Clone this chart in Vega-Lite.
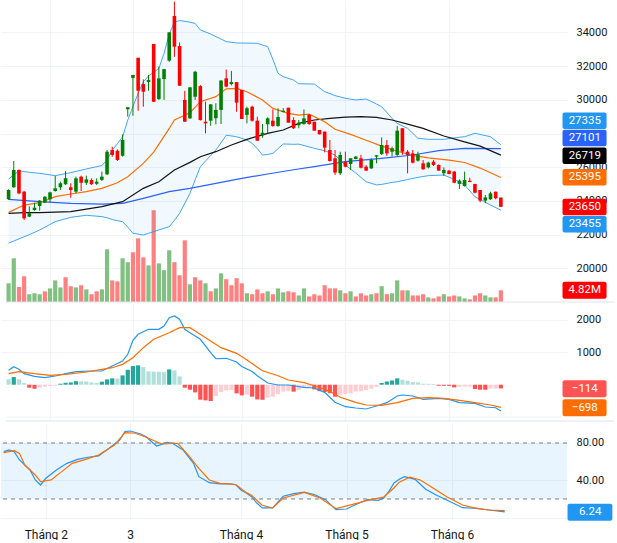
{
"$schema":"https://vega.github.io/schema/vega-lite/v6.json",
"padding":0,
"background":"white",
"spacing":1,
"config":{"view":{"stroke":null},"font":"Roboto",
 "axis":{"labelFont":"Roboto","labelColor":"#131722","labelFontSize":11,"ticks":false,"domain":false,"title":null,"gridColor":"#F0F3FA","gridWidth":1,"labelOverlap":false},
 "axisY":{"labelOverlap":false},
 "axisX":{"labelFontSize":12}},
"datasets":{
"c":[
{"i":0,"o":24100,"h":24690,"l":24060,"c":24650,"v":7.7,"vu":1},
{"i":1,"o":24810,"h":26370,"l":24780,"c":25840,"v":18.0,"vu":1},
{"i":2,"o":25840,"h":25870,"l":24400,"c":24450,"v":6.2,"vu":0},
{"i":3,"o":24550,"h":24600,"l":22870,"c":22970,"v":10.6,"vu":0},
{"i":4,"o":23070,"h":23680,"l":23040,"c":23270,"v":3.2,"vu":1},
{"i":5,"o":23460,"h":23890,"l":23420,"c":23600,"v":3.6,"vu":1},
{"i":6,"o":23700,"h":24060,"l":23420,"c":24020,"v":3.2,"vu":1},
{"i":7,"o":23900,"h":24280,"l":23880,"c":24250,"v":4.4,"vu":0},
{"i":8,"o":24100,"h":24550,"l":23920,"c":24510,"v":5.6,"vu":1},
{"i":9,"o":24590,"h":25480,"l":24550,"c":24750,"v":8.9,"vu":1},
{"i":10,"o":24810,"h":25140,"l":24650,"c":25050,"v":6.0,"vu":1},
{"i":11,"o":24990,"h":25780,"l":24950,"c":25340,"v":10.2,"vu":0},
{"i":12,"o":24810,"h":25050,"l":24190,"c":24650,"v":6.5,"vu":0},
{"i":13,"o":24550,"h":25440,"l":24450,"c":25340,"v":6.0,"vu":1},
{"i":14,"o":25440,"h":25500,"l":24590,"c":25080,"v":6.9,"vu":0},
{"i":15,"o":25080,"h":25500,"l":24950,"c":25280,"v":5.2,"vu":1},
{"i":16,"o":25240,"h":25340,"l":24950,"c":24990,"v":3.2,"vu":0},
{"i":17,"o":25020,"h":25340,"l":24950,"c":25140,"v":4.4,"vu":0},
{"i":18,"o":25250,"h":25740,"l":25180,"c":25440,"v":5.2,"vu":1},
{"i":19,"o":25580,"h":27020,"l":25540,"c":26920,"v":21.7,"vu":1},
{"i":20,"o":27020,"h":27220,"l":26620,"c":26730,"v":8.9,"vu":0},
{"i":21,"o":26980,"h":27060,"l":26370,"c":26430,"v":8.5,"vu":0},
{"i":22,"o":26680,"h":27950,"l":26630,"c":27620,"v":18.0,"vu":1},
{"i":23,"o":29440,"h":29550,"l":29000,"c":29550,"v":16.4,"vu":1},
{"i":24,"o":31300,"h":31470,"l":29050,"c":31470,"v":20.5,"vu":0},
{"i":25,"o":32490,"h":32490,"l":29350,"c":30540,"v":26.2,"vu":0},
{"i":26,"o":30930,"h":31210,"l":29590,"c":30480,"v":18.4,"vu":0},
{"i":27,"o":31050,"h":31470,"l":30540,"c":31170,"v":15.1,"vu":1},
{"i":28,"o":33310,"h":33310,"l":29880,"c":29880,"v":37.8,"vu":0},
{"i":29,"o":30040,"h":31960,"l":29990,"c":31270,"v":15.9,"vu":1},
{"i":30,"o":31230,"h":31820,"l":29990,"c":31820,"v":13.1,"vu":1},
{"i":31,"o":32320,"h":34000,"l":32250,"c":34000,"v":21.3,"vu":1},
{"i":32,"o":34970,"h":35820,"l":32550,"c":33150,"v":16.4,"vu":0},
{"i":33,"o":33190,"h":33400,"l":30830,"c":30830,"v":11.0,"vu":0},
{"i":34,"o":29990,"h":30530,"l":28700,"c":28700,"v":25.4,"vu":0},
{"i":35,"o":28900,"h":30740,"l":28860,"c":30740,"v":7.3,"vu":1},
{"i":36,"o":30180,"h":31720,"l":29990,"c":31660,"v":10.2,"vu":0},
{"i":37,"o":30810,"h":30870,"l":28760,"c":28800,"v":8.9,"vu":0},
{"i":38,"o":28700,"h":29890,"l":28010,"c":28600,"v":7.7,"vu":1},
{"i":39,"o":28760,"h":29730,"l":28460,"c":29730,"v":4.4,"vu":0},
{"i":40,"o":28910,"h":29800,"l":28540,"c":29400,"v":5.6,"vu":1},
{"i":41,"o":29400,"h":31170,"l":28560,"c":31140,"v":11.8,"vu":1},
{"i":42,"o":31270,"h":31800,"l":30740,"c":30780,"v":9.4,"vu":0},
{"i":43,"o":30930,"h":31710,"l":30850,"c":31050,"v":6.9,"vu":0},
{"i":44,"o":31050,"h":31050,"l":29290,"c":29830,"v":9.8,"vu":0},
{"i":45,"o":30580,"h":30580,"l":28860,"c":28860,"v":7.7,"vu":0},
{"i":46,"o":29100,"h":29590,"l":28600,"c":29500,"v":3.6,"vu":1},
{"i":47,"o":29590,"h":29650,"l":28700,"c":28760,"v":3.2,"vu":0},
{"i":48,"o":28760,"h":29000,"l":27570,"c":27570,"v":5.2,"vu":0},
{"i":49,"o":27890,"h":28560,"l":27750,"c":28050,"v":3.6,"vu":0},
{"i":50,"o":28550,"h":28960,"l":28010,"c":28900,"v":4.4,"vu":1},
{"i":51,"o":28760,"h":29430,"l":28400,"c":28450,"v":3.2,"vu":0},
{"i":52,"o":28450,"h":29500,"l":28400,"c":28980,"v":5.6,"vu":1},
{"i":53,"o":29280,"h":29500,"l":29250,"c":29350,"v":4.0,"vu":1},
{"i":54,"o":29530,"h":29530,"l":28640,"c":28640,"v":4.4,"vu":0},
{"i":55,"o":28800,"h":28960,"l":28270,"c":28310,"v":4.0,"vu":0},
{"i":56,"o":28490,"h":28800,"l":28310,"c":28640,"v":2.7,"vu":1},
{"i":57,"o":28560,"h":29430,"l":28520,"c":28900,"v":5.6,"vu":1},
{"i":58,"o":29100,"h":29160,"l":28520,"c":28560,"v":2.3,"vu":0},
{"i":59,"o":28700,"h":28700,"l":28170,"c":28170,"v":3.2,"vu":0},
{"i":60,"o":28210,"h":28210,"l":27950,"c":27950,"v":2.7,"vu":0},
{"i":61,"o":28110,"h":28110,"l":26880,"c":27160,"v":6.9,"vu":0},
{"i":62,"o":27020,"h":27620,"l":26330,"c":26370,"v":5.6,"vu":0},
{"i":63,"o":26530,"h":27020,"l":25540,"c":25680,"v":5.6,"vu":0},
{"i":64,"o":25640,"h":26920,"l":25540,"c":26730,"v":4.8,"vu":1},
{"i":65,"o":26330,"h":26920,"l":25990,"c":26030,"v":3.6,"vu":0},
{"i":66,"o":26190,"h":26530,"l":25840,"c":26530,"v":4.4,"vu":1},
{"i":67,"o":26490,"h":26670,"l":26470,"c":26630,"v":2.3,"vu":0},
{"i":68,"o":26530,"h":26730,"l":25930,"c":25970,"v":3.6,"vu":0},
{"i":69,"o":26030,"h":26130,"l":25780,"c":25800,"v":2.7,"vu":0},
{"i":70,"o":25930,"h":26530,"l":25900,"c":26430,"v":3.2,"vu":1},
{"i":71,"o":26630,"h":26710,"l":26230,"c":26710,"v":3.6,"vu":0},
{"i":72,"o":26780,"h":27770,"l":26730,"c":27320,"v":6.5,"vu":1},
{"i":73,"o":27320,"h":27620,"l":26670,"c":26820,"v":3.2,"vu":0},
{"i":74,"o":26920,"h":27220,"l":26630,"c":27120,"v":3.6,"vu":1},
{"i":75,"o":26730,"h":28450,"l":26630,"c":28170,"v":8.9,"vu":1},
{"i":76,"o":28310,"h":28310,"l":26730,"c":26920,"v":4.8,"vu":0},
{"i":77,"o":26920,"h":27020,"l":25640,"c":26730,"v":4.8,"vu":1},
{"i":78,"o":26820,"h":27020,"l":26230,"c":26270,"v":2.7,"vu":0},
{"i":79,"o":26390,"h":26920,"l":26330,"c":26760,"v":2.7,"vu":0},
{"i":80,"o":26230,"h":26430,"l":25840,"c":25880,"v":3.2,"vu":0},
{"i":81,"o":25990,"h":26330,"l":25930,"c":26270,"v":1.9,"vu":1},
{"i":82,"o":26330,"h":26430,"l":26070,"c":26130,"v":1.5,"vu":0},
{"i":83,"o":26130,"h":26170,"l":25780,"c":25800,"v":2.3,"vu":0},
{"i":84,"o":25640,"h":25990,"l":25480,"c":25840,"v":3.2,"vu":1},
{"i":85,"o":25800,"h":25840,"l":25580,"c":25600,"v":2.3,"vu":0},
{"i":86,"o":25740,"h":25780,"l":25050,"c":25080,"v":2.7,"vu":0},
{"i":87,"o":25010,"h":25280,"l":24710,"c":25200,"v":2.3,"vu":1},
{"i":88,"o":24890,"h":25740,"l":24850,"c":25240,"v":1.5,"vu":1},
{"i":89,"o":25200,"h":25380,"l":25120,"c":25120,"v":1.1,"vu":0},
{"i":90,"o":25010,"h":25010,"l":24450,"c":24490,"v":2.7,"vu":0},
{"i":91,"o":24650,"h":24650,"l":23920,"c":24020,"v":3.6,"vu":0},
{"i":92,"o":24020,"h":24350,"l":23860,"c":24210,"v":2.7,"vu":1},
{"i":93,"o":24100,"h":24550,"l":24060,"c":24450,"v":1.9,"vu":1},
{"i":94,"o":24550,"h":24550,"l":24100,"c":24160,"v":1.9,"vu":0},
{"i":95,"o":24200,"h":24200,"l":23650,"c":23650,"v":4.82,"vu":0}
],
"bb":[
{"i":0,"up":25300,"lo":21500},{"i":2,"up":25790,"lo":21750},{"i":4,"up":25700,"lo":22000},{"i":6,"up":25640,"lo":22280},
{"i":9,"up":25500,"lo":22770},{"i":12,"up":25680,"lo":23030},{"i":15,"up":25900,"lo":23150},{"i":18,"up":26100,"lo":23070},
{"i":19,"up":26430,"lo":23000},{"i":20,"up":27000,"lo":22900},{"i":21,"up":27400,"lo":22830},{"i":22,"up":27800,"lo":22770},
{"i":23,"up":28800,"lo":22450},{"i":24,"up":29600,"lo":22080},{"i":25,"up":30380,"lo":22030},{"i":26,"up":31070,"lo":21980},
{"i":27,"up":31410,"lo":22080},{"i":29,"up":31860,"lo":22280},{"i":30,"up":32750,"lo":22380},{"i":31,"up":33900,"lo":22470},
{"i":32,"up":34600,"lo":22850},{"i":33,"up":34700,"lo":23260},{"i":35,"up":34600,"lo":24450},{"i":36,"up":34530,"lo":25250},
{"i":37,"up":34140,"lo":26030},{"i":39,"up":33900,"lo":26700},{"i":40,"up":33750,"lo":27020},{"i":42,"up":33450,"lo":27900},
{"i":44,"up":33370,"lo":27810},{"i":46,"up":33360,"lo":27610},{"i":47,"up":33355,"lo":27420},{"i":48,"up":33350,"lo":27100},
{"i":49,"up":33250,"lo":26720},{"i":50,"up":33150,"lo":26760},{"i":51,"up":32400,"lo":26820},{"i":52,"up":31570,"lo":27100},
{"i":53,"up":31370,"lo":27380},{"i":55,"up":31170,"lo":27360},{"i":56,"up":30950,"lo":27370},{"i":59,"up":30935,"lo":27120},
{"i":61,"up":30480,"lo":26980},{"i":63,"up":30250,"lo":26720},{"i":65,"up":30087,"lo":26130},{"i":67,"up":29990,"lo":25650},
{"i":69,"up":30046,"lo":25140},{"i":71,"up":29750,"lo":24950},{"i":72,"up":29590,"lo":24980},{"i":74,"up":28900,"lo":25100},
{"i":75,"up":28600,"lo":25140},{"i":77,"up":28310,"lo":25270},{"i":79,"up":27715,"lo":25400},{"i":81,"up":27656,"lo":25500},
{"i":84,"up":27656,"lo":25540},{"i":87,"up":27780,"lo":25140},{"i":88,"up":27810,"lo":24950},{"i":90,"up":28012,"lo":24250},
{"i":93,"up":27810,"lo":23760},{"i":95,"up":27335,"lo":23455}
],
"ma":[
{"i":0,"s":"basis","v":23323},{"i":3,"s":"basis","v":23758},{"i":6,"s":"basis","v":23897},{"i":9,"s":"basis","v":24253},
{"i":12,"s":"basis","v":24411},{"i":15,"s":"basis","v":24549},{"i":18,"s":"basis","v":24747},{"i":21,"s":"basis","v":25083},
{"i":23,"s":"basis","v":25439},{"i":26,"s":"basis","v":26230},{"i":28,"s":"basis","v":26900},{"i":31,"s":"basis","v":28300},
{"i":32,"s":"basis","v":28800},{"i":35,"s":"basis","v":29235},{"i":37,"s":"basis","v":29887},{"i":40,"s":"basis","v":30184},
{"i":42,"s":"basis","v":30650},{"i":44,"s":"basis","v":30678},{"i":46,"s":"basis","v":30480},{"i":49,"s":"basis","v":29986},
{"i":51,"s":"basis","v":29492},{"i":54,"s":"basis","v":29195},{"i":56,"s":"basis","v":29096},{"i":58,"s":"basis","v":29150},
{"i":61,"s":"basis","v":28700},{"i":63,"s":"basis","v":28250},{"i":66,"s":"basis","v":27950},{"i":69,"s":"basis","v":27600},
{"i":72,"s":"basis","v":27250},{"i":75,"s":"basis","v":26950},{"i":78,"s":"basis","v":26700},{"i":81,"s":"basis","v":26550},
{"i":85,"s":"basis","v":26420},{"i":88,"s":"basis","v":26280},{"i":91,"s":"basis","v":25950},{"i":95,"s":"basis","v":25395},
{"i":0,"s":"ma50","v":23264},{"i":3,"s":"ma50","v":23304},{"i":6,"s":"ma50","v":23304},{"i":12,"s":"ma50","v":23363},
{"i":18,"s":"ma50","v":23660},{"i":22,"s":"ma50","v":23956},{"i":26,"s":"ma50","v":24747},{"i":29,"s":"ma50","v":25142},
{"i":32,"s":"ma50","v":25835},{"i":35,"s":"ma50","v":26289},{"i":37,"s":"ma50","v":26625},{"i":40,"s":"ma50","v":26922},
{"i":43,"s":"ma50","v":27317},{"i":46,"s":"ma50","v":27653},{"i":50,"s":"ma50","v":28009},{"i":53,"s":"ma50","v":28207},
{"i":56,"s":"ma50","v":28600},{"i":59,"s":"ma50","v":28800},{"i":62,"s":"ma50","v":28899},{"i":65,"s":"ma50","v":28970},
{"i":68,"s":"ma50","v":29000},{"i":71,"s":"ma50","v":28960},{"i":74,"s":"ma50","v":28800},{"i":77,"s":"ma50","v":28560},
{"i":80,"s":"ma50","v":28300},{"i":84,"s":"ma50","v":27850},{"i":88,"s":"ma50","v":27500},{"i":91,"s":"ma50","v":27250},
{"i":95,"s":"ma50","v":26719},
{"i":0,"s":"ma200","v":24094},{"i":6,"s":"ma200","v":23956},{"i":12,"s":"ma200","v":23857},{"i":18,"s":"ma200","v":23818},
{"i":22,"s":"ma200","v":23857},{"i":26,"s":"ma200","v":24154},{"i":31,"s":"ma200","v":24549},{"i":35,"s":"ma200","v":24747},
{"i":40,"s":"ma200","v":25043},{"i":45,"s":"ma200","v":25340},{"i":50,"s":"ma200","v":25597},{"i":55,"s":"ma200","v":25850},
{"i":59,"s":"ma200","v":26032},{"i":65,"s":"ma200","v":26328},{"i":72,"s":"ma200","v":26526},{"i":78,"s":"ma200","v":26724},
{"i":83,"s":"ma200","v":26981},{"i":88,"s":"ma200","v":27119},{"i":95,"s":"ma200","v":27101}
],
"h":[
{"i":0,"h":165,"k":"gl"},{"i":1,"h":237,"k":"g"},{"i":2,"h":165,"k":"gl"},{"i":3,"h":50,"k":"gl"},{"i":4,"h":-93,"k":"r"},
{"i":5,"h":-123,"k":"r"},{"i":6,"h":-93,"k":"rl"},{"i":7,"h":-62,"k":"rl"},{"i":8,"h":-40,"k":"rl"},{"i":9,"h":-25,"k":"rl"},
{"i":10,"h":30,"k":"g"},{"i":11,"h":60,"k":"g"},{"i":12,"h":70,"k":"g"},{"i":13,"h":110,"k":"g"},{"i":14,"h":105,"k":"gl"},
{"i":15,"h":100,"k":"gl"},{"i":16,"h":72,"k":"gl"},{"i":17,"h":55,"k":"gl"},{"i":18,"h":93,"k":"g"},{"i":19,"h":165,"k":"g"},
{"i":20,"h":195,"k":"g"},{"i":21,"h":190,"k":"gl"},{"i":22,"h":288,"k":"g"},{"i":23,"h":463,"k":"g"},{"i":24,"h":576,"k":"g"},
{"i":25,"h":597,"k":"g"},{"i":26,"h":545,"k":"gl"},{"i":27,"h":412,"k":"gl"},{"i":28,"h":405,"k":"gl"},{"i":29,"h":400,"k":"gl"},
{"i":30,"h":391,"k":"gl"},{"i":31,"h":473,"k":"g"},{"i":32,"h":442,"k":"gl"},{"i":33,"h":257,"k":"gl"},{"i":34,"h":-93,"k":"r"},
{"i":35,"h":-154,"k":"r"},{"i":36,"h":-237,"k":"r"},{"i":37,"h":-463,"k":"r"},{"i":38,"h":-483,"k":"r"},{"i":39,"h":-504,"k":"r"},
{"i":40,"h":-350,"k":"rl"},{"i":41,"h":-226,"k":"rl"},{"i":42,"h":-175,"k":"rl"},{"i":43,"h":-165,"k":"rl"},{"i":44,"h":-268,"k":"r"},
{"i":45,"h":-330,"k":"r"},{"i":46,"h":-310,"k":"rl"},{"i":47,"h":-370,"k":"r"},{"i":48,"h":-455,"k":"r"},{"i":49,"h":-465,"k":"r"},
{"i":50,"h":-400,"k":"rl"},{"i":51,"h":-370,"k":"rl"},{"i":52,"h":-290,"k":"rl"},{"i":53,"h":-210,"k":"rl"},{"i":54,"h":-200,"k":"rl"},
{"i":55,"h":-215,"k":"r"},{"i":56,"h":-165,"k":"rl"},{"i":57,"h":-85,"k":"rl"},{"i":58,"h":-60,"k":"rl"},{"i":59,"h":-145,"k":"r"},
{"i":60,"h":-200,"k":"r"},{"i":61,"h":-225,"k":"r"},{"i":62,"h":-265,"k":"r"},{"i":63,"h":-370,"k":"r"},{"i":64,"h":-310,"k":"rl"},
{"i":65,"h":-290,"k":"rl"},{"i":66,"h":-268,"k":"rl"},{"i":67,"h":-210,"k":"rl"},{"i":68,"h":-205,"k":"rl"},{"i":69,"h":-165,"k":"rl"},
{"i":70,"h":-123,"k":"rl"},{"i":71,"h":-62,"k":"rl"},{"i":72,"h":55,"k":"g"},{"i":73,"h":100,"k":"g"},{"i":74,"h":130,"k":"g"},
{"i":75,"h":196,"k":"g"},{"i":76,"h":154,"k":"gl"},{"i":77,"h":123,"k":"gl"},{"i":78,"h":82,"k":"gl"},{"i":79,"h":72,"k":"gl"},
{"i":80,"h":31,"k":"gl"},{"i":81,"h":28,"k":"gl"},{"i":82,"h":21,"k":"gl"},{"i":83,"h":-31,"k":"r"},{"i":84,"h":-33,"k":"r"},
{"i":85,"h":-35,"k":"r"},{"i":86,"h":-82,"k":"r"},{"i":87,"h":-62,"k":"rl"},{"i":88,"h":-60,"k":"rl"},{"i":89,"h":-58,"k":"rl"},
{"i":90,"h":-134,"k":"r"},{"i":91,"h":-154,"k":"r"},{"i":92,"h":-156,"k":"r"},{"i":93,"h":-123,"k":"rl"},{"i":94,"h":-120,"k":"rl"},
{"i":95,"h":-114,"k":"r"}
],
"md":[
{"i":0,"s":"macd","v":444},{"i":1,"s":"macd","v":556},{"i":2,"s":"macd","v":475},{"i":3,"s":"macd","v":340},{"i":5,"s":"macd","v":259},
{"i":7,"s":"macd","v":216},{"i":9,"s":"macd","v":269},{"i":11,"s":"macd","v":340},{"i":13,"s":"macd","v":401},{"i":16,"s":"macd","v":423},
{"i":18,"s":"macd","v":423},{"i":20,"s":"macd","v":577},{"i":22,"s":"macd","v":731},{"i":23,"s":"macd","v":938},{"i":24,"s":"macd","v":1370},
{"i":25,"s":"macd","v":1556},{"i":27,"s":"macd","v":1710},{"i":29,"s":"macd","v":1710},{"i":30,"s":"macd","v":1812},{"i":31,"s":"macd","v":2068},
{"i":32,"s":"macd","v":2120},{"i":33,"s":"macd","v":2019},{"i":34,"s":"macd","v":1710},{"i":35,"s":"macd","v":1605},{"i":37,"s":"macd","v":1401},
{"i":39,"s":"macd","v":988},{"i":40,"s":"macd","v":802},{"i":42,"s":"macd","v":815},{"i":44,"s":"macd","v":700},{"i":45,"s":"macd","v":560},
{"i":47,"s":"macd","v":410},{"i":48,"s":"macd","v":278},{"i":50,"s":"macd","v":52},{"i":52,"s":"macd","v":-9},{"i":54,"s":"macd","v":-9},
{"i":57,"s":"macd","v":-80},{"i":59,"s":"macd","v":-101},{"i":61,"s":"macd","v":-235},{"i":63,"s":"macd","v":-543},{"i":65,"s":"macd","v":-679},
{"i":67,"s":"macd","v":-719},{"i":69,"s":"macd","v":-750},{"i":71,"s":"macd","v":-657},{"i":73,"s":"macd","v":-555},{"i":75,"s":"macd","v":-349},
{"i":76,"s":"macd","v":-318},{"i":78,"s":"macd","v":-349},{"i":80,"s":"macd","v":-451},{"i":83,"s":"macd","v":-420},{"i":85,"s":"macd","v":-451},
{"i":87,"s":"macd","v":-555},{"i":90,"s":"macd","v":-575},{"i":92,"s":"macd","v":-688},{"i":94,"s":"macd","v":-710},{"i":95,"s":"macd","v":-812},
{"i":0,"s":"sig","v":340},{"i":2,"s":"sig","v":401},{"i":5,"s":"sig","v":340},{"i":8,"s":"sig","v":290},{"i":11,"s":"sig","v":320},
{"i":15,"s":"sig","v":392},{"i":18,"s":"sig","v":475},{"i":20,"s":"sig","v":525},{"i":22,"s":"sig","v":628},{"i":24,"s":"sig","v":834},
{"i":26,"s":"sig","v":1143},{"i":28,"s":"sig","v":1401},{"i":31,"s":"sig","v":1605},{"i":33,"s":"sig","v":1760},{"i":35,"s":"sig","v":1760},
{"i":36,"s":"sig","v":1657},{"i":39,"s":"sig","v":1350},{"i":41,"s":"sig","v":1143},{"i":44,"s":"sig","v":969},{"i":46,"s":"sig","v":760},
{"i":49,"s":"sig","v":432},{"i":52,"s":"sig","v":278},{"i":54,"s":"sig","v":145},{"i":57,"s":"sig","v":62},{"i":59,"s":"sig","v":-31},
{"i":62,"s":"sig","v":-204},{"i":64,"s":"sig","v":-389},{"i":67,"s":"sig","v":-543},{"i":69,"s":"sig","v":-627},{"i":72,"s":"sig","v":-640},
{"i":75,"s":"sig","v":-555},{"i":78,"s":"sig","v":-420},{"i":81,"s":"sig","v":-400},{"i":84,"s":"sig","v":-420},{"i":87,"s":"sig","v":-482},
{"i":90,"s":"sig","v":-555},{"i":93,"s":"sig","v":-627},{"i":95,"s":"sig","v":-698}
],
"st":[
{"i":0,"s":"k","v":70.7},{"i":1,"s":"k","v":72.5},{"i":2,"s":"k","v":70.7},{"i":3,"s":"k","v":61.8},{"i":5,"s":"k","v":51.1},
{"i":6,"s":"k","v":40.4},{"i":7,"s":"k","v":35},{"i":8,"s":"k","v":42.2},{"i":10,"s":"k","v":51.1},{"i":12,"s":"k","v":58.2},
{"i":14,"s":"k","v":62.5},{"i":16,"s":"k","v":64.7},{"i":18,"s":"k","v":66.1},{"i":20,"s":"k","v":74.3},{"i":22,"s":"k","v":83.2},
{"i":23,"s":"k","v":92.1},{"i":24,"s":"k","v":92.8},{"i":26,"s":"k","v":89.6},{"i":27,"s":"k","v":86.7},{"i":29,"s":"k","v":76.8},
{"i":31,"s":"k","v":80.7},{"i":32,"s":"k","v":79.7},{"i":34,"s":"k","v":72.5},{"i":36,"s":"k","v":58.2},{"i":37,"s":"k","v":43.9},
{"i":39,"s":"k","v":37.5},{"i":41,"s":"k","v":36.1},{"i":43,"s":"k","v":36.1},{"i":44,"s":"k","v":35.3},{"i":45,"s":"k","v":29.7},
{"i":46,"s":"k","v":26.4},{"i":47,"s":"k","v":22.5},{"i":48,"s":"k","v":15.7},{"i":49,"s":"k","v":10.4},{"i":51,"s":"k","v":10.4},
{"i":53,"s":"k","v":22.9},{"i":55,"s":"k","v":25.7},{"i":57,"s":"k","v":27.5},{"i":59,"s":"k","v":24.6},{"i":61,"s":"k","v":19.3},
{"i":63,"s":"k","v":8.6},{"i":65,"s":"k","v":9.3},{"i":67,"s":"k","v":14.7},{"i":69,"s":"k","v":19.3},{"i":71,"s":"k","v":18.6},
{"i":72,"s":"k","v":20.7},{"i":73,"s":"k","v":27.8},{"i":74,"s":"k","v":37.2},{"i":75,"s":"k","v":41.1},{"i":76,"s":"k","v":43.9},
{"i":78,"s":"k","v":41.1},{"i":80,"s":"k","v":30.4},{"i":82,"s":"k","v":24.3},{"i":84,"s":"k","v":19},{"i":87,"s":"k","v":10.7},
{"i":89,"s":"k","v":10.1},{"i":92,"s":"k","v":8.2},{"i":95,"s":"k","v":6.24},
{"i":0,"s":"d","v":69.6},{"i":2,"s":"d","v":71.7},{"i":3,"s":"d","v":68.9},{"i":4,"s":"d","v":56.4},{"i":6,"s":"d","v":45.7},
{"i":7,"s":"d","v":38.5},{"i":9,"s":"d","v":40.4},{"i":11,"s":"d","v":49.3},{"i":13,"s":"d","v":58.2},{"i":16,"s":"d","v":63.2},
{"i":18,"s":"d","v":67.1},{"i":21,"s":"d","v":77.8},{"i":23,"s":"d","v":91},{"i":25,"s":"d","v":90.4},{"i":27,"s":"d","v":86.1},
{"i":30,"s":"d","v":78.9},{"i":33,"s":"d","v":79.7},{"i":35,"s":"d","v":67.1},{"i":37,"s":"d","v":52.9},{"i":39,"s":"d","v":40.4},
{"i":41,"s":"d","v":36.8},{"i":44,"s":"d","v":35.5},{"i":46,"s":"d","v":26.8},{"i":47,"s":"d","v":24},{"i":49,"s":"d","v":13.3},
{"i":51,"s":"d","v":10.4},{"i":53,"s":"d","v":21.1},{"i":57,"s":"d","v":27.1},{"i":60,"s":"d","v":21.1},{"i":63,"s":"d","v":9.6},
{"i":66,"s":"d","v":13.9},{"i":69,"s":"d","v":18.6},{"i":72,"s":"d","v":22},{"i":74,"s":"d","v":31.8},{"i":75,"s":"d","v":38},
{"i":77,"s":"d","v":43.3},{"i":79,"s":"d","v":40.4},{"i":82,"s":"d","v":29.7},{"i":84,"s":"d","v":22.5},{"i":87,"s":"d","v":13.6},
{"i":89,"s":"d","v":10.7},{"i":92,"s":"d","v":8.2},{"i":95,"s":"d","v":7.5}
],
"tp":[
{"s":"upper","t":"27335","at":28750},{"s":"ma200","t":"27101","at":27730},{"s":"ma50","t":"26719","at":26684},
{"s":"basis","t":"25395","at":25403},{"s":"last","t":"23650","at":23640},{"s":"lower","t":"23455","at":22620}
],
"tv":[{"s":"vol","t":"4.82M","at":4.82}],
"tm":[{"s":"hist","t":"−114","at":-123},{"s":"sig","t":"−698","at":-710}],
"ts":[{"s":"k","t":"6.24","at":5.8}]
},
"vconcat":[
{
 "width":566,"height":302,
 "resolve":{"scale":{"y":"independent"}},
 "layer":[
  {"layer":[
   {"data":{"name":"c"},"mark":{"type":"bar","width":4.2,"orient":"vertical"},
    "encoding":{
     "x":{"field":"i","type":"quantitative","scale":{"domain":[-0.5,106.8],"nice":false,"zero":false},
          "axis":{"values":[8,24,45,65,85],"labels":false,"grid":true,"domain":false}},
     "y":{"field":"v","type":"quantitative","scale":{"domain":[0,124.4],"nice":false},"axis":null},
     "y2":{"datum":0},
     "color":{"condition":{"test":"datum.vu == 1","value":"#80C080"},"value":"#FF8080"}}},
   {"data":{"values":[{}]},"mark":{"type":"rule","color":"#E0E3EB","strokeWidth":1},
    "encoding":{"x":{"datum":-0.5},"x2":{"datum":116.9},"y":{"datum":0}}},
   {"data":{"name":"tv"},"mark":{"type":"rect","height":17,"cornerRadius":2},
    "encoding":{"x":{"datum":106.9},"x2":{"datum":115.4},"y":{"field":"at","type":"quantitative"},"color":{"value":"#FF0000"}}},
   {"data":{"name":"tv"},"mark":{"type":"text","color":"white","fontSize":11.5,"align":"center","baseline":"middle"},
    "encoding":{"x":{"datum":111.2},"y":{"field":"at","type":"quantitative"},"text":{"field":"t"}}}
  ]},
  {"layer":[
   {"data":{"name":"bb"},"mark":{"type":"area","color":"#2196F3","opacity":0.06},
    "encoding":{"x":{"field":"i","type":"quantitative"},
     "y":{"field":"up","type":"quantitative","scale":{"domain":[18008,35917],"nice":false,"zero":false},
          "axis":{"orient":"right","values":[20000,22000,24000,26000,28000,30000,32000,34000],"format":"d","labelExpr":"datum.value == 28000 ? '' : datum.label","grid":true,"labelPadding":9,"labelOverlap":false}},
     "y2":{"field":"lo"}}},
   {"data":{"name":"bb"},"mark":{"type":"line","color":"#2196F3","strokeWidth":1,"opacity":0.85},
    "encoding":{"x":{"field":"i","type":"quantitative"},"y":{"field":"up","type":"quantitative"}}},
   {"data":{"name":"bb"},"mark":{"type":"line","color":"#2196F3","strokeWidth":1,"opacity":0.85},
    "encoding":{"x":{"field":"i","type":"quantitative"},"y":{"field":"lo","type":"quantitative"}}},
   {"data":{"name":"ma"},"transform":[{"filter":"datum.s == 'ma200'"}],"mark":{"type":"line","color":"#2962FF","strokeWidth":1.2},
    "encoding":{"x":{"field":"i","type":"quantitative"},"y":{"field":"v","type":"quantitative"}}},
   {"data":{"name":"ma"},"transform":[{"filter":"datum.s == 'ma50'"}],"mark":{"type":"line","color":"#131313","strokeWidth":1.2},
    "encoding":{"x":{"field":"i","type":"quantitative"},"y":{"field":"v","type":"quantitative"}}},
   {"data":{"name":"ma"},"transform":[{"filter":"datum.s == 'basis'"}],"mark":{"type":"line","color":"#FF6D00","strokeWidth":1.2},
    "encoding":{"x":{"field":"i","type":"quantitative"},"y":{"field":"v","type":"quantitative"}}},
   {"data":{"name":"c"},"mark":{"type":"rule","strokeWidth":1},
    "encoding":{"x":{"field":"i","type":"quantitative"},"y":{"field":"l","type":"quantitative"},"y2":{"field":"h"},
     "color":{"condition":{"test":"datum.c >= datum.o","value":"#008000"},"value":"#FF0000"}}},
   {"data":{"name":"c"},"mark":{"type":"bar","width":3.6,"orient":"vertical"},
    "encoding":{"x":{"field":"i","type":"quantitative"},"y":{"field":"o","type":"quantitative"},"y2":{"field":"c"},
     "color":{"condition":{"test":"datum.c >= datum.o","value":"#008000"},"value":"#FF0000"}}},
   {"data":{"name":"tp"},"mark":{"type":"rect","height":16.5,"cornerRadius":2},
    "encoding":{"x":{"datum":106.9},"x2":{"datum":115.4},"y":{"field":"at","type":"quantitative"},
     "color":{"condition":[
       {"test":"datum.s == 'upper' || datum.s == 'lower'","value":"#2196F3"},
       {"test":"datum.s == 'ma200'","value":"#2962FF"},
       {"test":"datum.s == 'ma50'","value":"#000000"},
       {"test":"datum.s == 'basis'","value":"#FF6D00"}],"value":"#FF0000"}}},
   {"data":{"name":"tp"},"mark":{"type":"text","color":"white","fontSize":11.5,"align":"center","baseline":"middle"},
    "encoding":{"x":{"datum":111.2},"y":{"field":"at","type":"quantitative"},"text":{"field":"t"}}}
  ]}
 ]
},
{
 "width":566,"height":117,
 "layer":[
  {"data":{"name":"h"},"mark":{"type":"bar","width":4.2,"orient":"vertical"},
   "encoding":{
    "x":{"field":"i","type":"quantitative","scale":{"domain":[-0.5,106.8],"nice":false,"zero":false},
         "axis":{"values":[8,24,45,65,85],"labels":false,"grid":true,"domain":false}},
    "y":{"field":"h","type":"quantitative","scale":{"domain":[-1120,2491],"nice":false,"zero":false},
         "axis":{"orient":"right","values":[1000,2000],"format":"d","grid":true,"labelPadding":9,"labelOverlap":false}},
    "y2":{"datum":0},
    "color":{"condition":[
      {"test":"datum.k == 'g'","value":"#26A69A"},
      {"test":"datum.k == 'gl'","value":"#B2DFDB"},
      {"test":"datum.k == 'r'","value":"#FF5252"}],"value":"#FFCDD2"}}},
  {"data":{"values":[{}]},"mark":{"type":"rule","color":"#F0F3FA","strokeWidth":1},
   "encoding":{"x":{"datum":-0.5},"x2":{"datum":106.8},"y":{"datum":-1000}}},
  {"data":{"values":[{}]},"mark":{"type":"rule","color":"#E0E3EB","strokeWidth":1},
   "encoding":{"x":{"datum":-0.5},"x2":{"datum":116.9},"y":{"datum":-1120}}},
  {"data":{"name":"md"},"transform":[{"filter":"datum.s == 'macd'"}],"mark":{"type":"line","color":"#2196F3","strokeWidth":1.2},
   "encoding":{"x":{"field":"i","type":"quantitative"},"y":{"field":"v","type":"quantitative"}}},
  {"data":{"name":"md"},"transform":[{"filter":"datum.s == 'sig'"}],"mark":{"type":"line","color":"#FF6D00","strokeWidth":1.2},
   "encoding":{"x":{"field":"i","type":"quantitative"},"y":{"field":"v","type":"quantitative"}}},
  {"data":{"name":"tm"},"mark":{"type":"rect","height":17,"cornerRadius":2},
   "encoding":{"x":{"datum":106.9},"x2":{"datum":115.4},"y":{"field":"at","type":"quantitative"},
    "color":{"condition":{"test":"datum.s == 'hist'","value":"#FF5252"},"value":"#FF6D00"}}},
  {"data":{"name":"tm"},"mark":{"type":"text","color":"white","fontSize":11.5,"align":"center","baseline":"middle"},
   "encoding":{"x":{"datum":111.2},"y":{"field":"at","type":"quantitative"},"text":{"field":"t"}}}
 ]
},
{
 "width":566,"height":97,
 "layer":[
  {"data":{"values":[{}]},"mark":{"type":"rect","color":"#2196F3","opacity":0.1},
   "encoding":{
    "x":{"datum":-0.5,"type":"quantitative","scale":{"domain":[-0.5,106.8],"nice":false,"zero":false},
         "axis":{"values":[8,24,45,65,85],"grid":true,"labelPadding":9,
                 "labelExpr":"datum.value == 8 ? 'Tháng 2' : datum.value == 24 ? '3' : datum.value == 45 ? 'Tháng 4' : datum.value == 65 ? 'Tháng 5' : 'Tháng 6'"}},
    "x2":{"datum":106.8},
    "y":{"datum":20,"type":"quantitative","scale":{"domain":[-2.5,101.4],"nice":false,"zero":false},
         "axis":{"orient":"right","values":[0,40,80],"format":".2f","labelExpr":"datum.value == 0 ? '' : datum.label","grid":true,"labelPadding":9,"labelOverlap":false}},
    "y2":{"datum":80}}},
  {"data":{"values":[{}]},"mark":{"type":"rule","color":"#787B86","strokeDash":[4,4],"strokeWidth":1},
   "encoding":{"y":{"datum":80,"type":"quantitative"}}},
  {"data":{"values":[{}]},"mark":{"type":"rule","color":"#787B86","strokeDash":[4,4],"strokeWidth":1},
   "encoding":{"y":{"datum":20,"type":"quantitative"}}},
  {"data":{"name":"st"},"transform":[{"filter":"datum.s == 'k'"}],"mark":{"type":"line","color":"#2196F3","strokeWidth":1.2},
   "encoding":{"x":{"field":"i","type":"quantitative"},"y":{"field":"v","type":"quantitative"}}},
  {"data":{"name":"st"},"transform":[{"filter":"datum.s == 'd'"}],"mark":{"type":"line","color":"#FF6D00","strokeWidth":1.2},
   "encoding":{"x":{"field":"i","type":"quantitative"},"y":{"field":"v","type":"quantitative"}}},
  {"data":{"name":"ts"},"mark":{"type":"rect","height":17,"cornerRadius":2},
   "encoding":{"x":{"datum":106.9},"x2":{"datum":115.4},"y":{"field":"at","type":"quantitative"},"color":{"value":"#2196F3"}}},
  {"data":{"name":"ts"},"mark":{"type":"text","color":"white","fontSize":11.5,"align":"center","baseline":"middle"},
   "encoding":{"x":{"datum":111.2},"y":{"field":"at","type":"quantitative"},"text":{"field":"t"}}}
 ]
}
]
}
